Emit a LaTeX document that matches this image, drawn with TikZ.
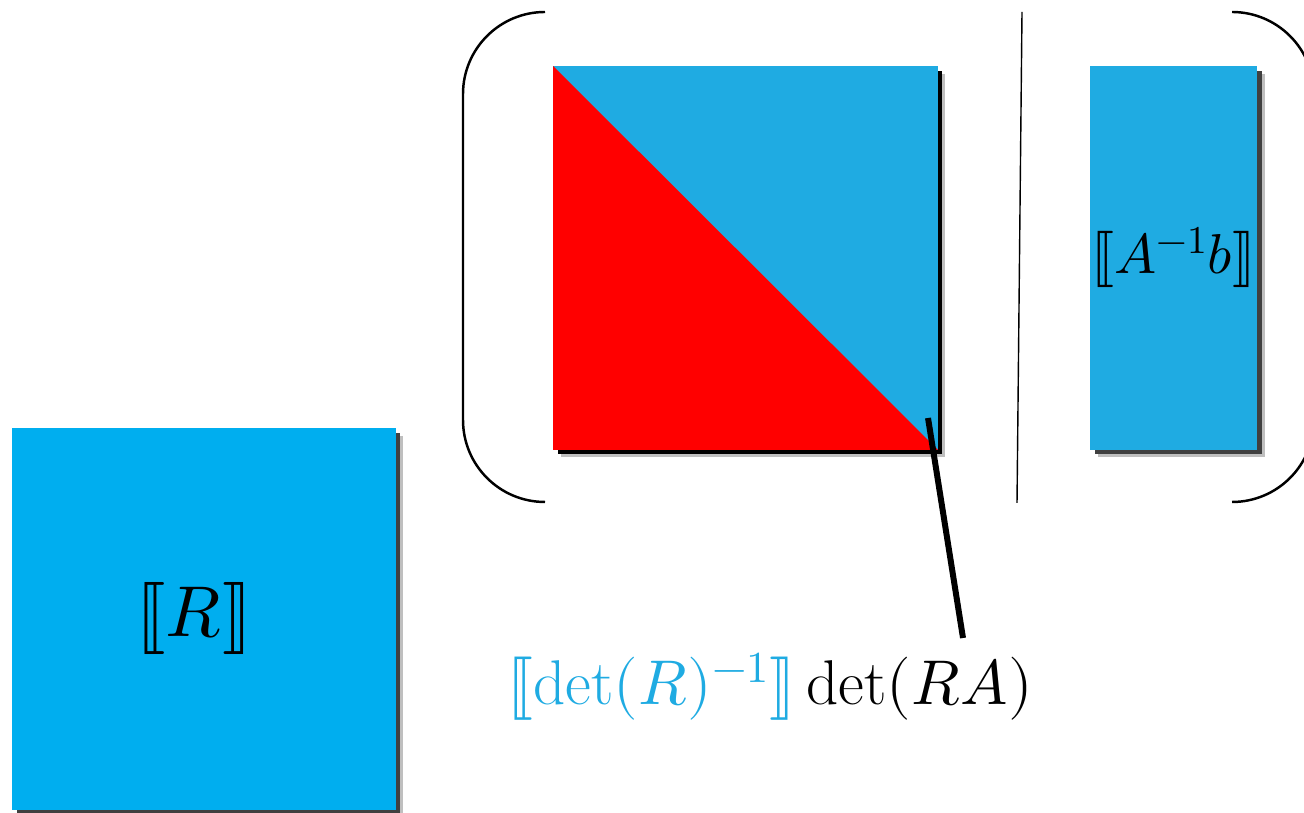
\documentclass[tikz,border=0pt]{standalone}
\usepackage{unicode-math}
\setmathfont{Latin Modern Math}
\usetikzlibrary{shadows}
\definecolor{cyanbox}{RGB}{0,174,239}
\definecolor{skyblue}{RGB}{31,171,226}
\definecolor{redpart}{RGB}{255,0,0}
\tikzset{
  tile/.style={fill=#1,inner sep=0pt,outer sep=0pt,
    drop shadow={shadow xshift=0.15cm,shadow yshift=-0.15cm,fill=black!25,opacity=1},
    drop shadow={shadow xshift=0.09cm,shadow yshift=-0.09cm,fill=black!75,opacity=1}},
  tile/.default=skyblue,
  brace/.style={line width=1.4pt},
  pointer/.style={line width=3.4pt},
}
\begin{document}
\begin{tikzpicture}[x=0.02cm,y=0.02cm]
  \useasboundingbox (0,0) rectangle (1304,813);
  % left block
  \node[tile=cyanbox,minimum width=7.68cm,minimum height=7.64cm,
    font=\fontsize{41}{44}\selectfont] (rbox) at (204,194) {\hspace*{-0.4cm}$\lBrack R\rBrack$};
  % big square, lower triangle in red
  \node[tile=skyblue,minimum width=7.7cm,minimum height=7.68cm,
    drop shadow={shadow xshift=0.09cm,shadow yshift=-0.09cm,fill=black,opacity=1},
    path picture={\fill[redpart] (path picture bounding box.north west)
      -- (path picture bounding box.south west)
      -- (path picture bounding box.south east) -- cycle;}] (ra) at (745.5,555) {};
  % right column
  \node[tile=skyblue,minimum width=3.34cm,minimum height=7.68cm,
    font=\fontsize{32}{35}\selectfont] (ab) at (1173.5,555) {\raisebox{0.3cm}{$\lBrack A^{-1}b\rBrack$}};
  % brackets and divider
  \draw[brace] (545,801) arc (90:180:82) -- (463,393) arc (180:270:82);
  \draw[brace] (1232,801) arc (90:0:82) -- (1314,393) arc (0:-90:82);
  \draw[line width=0.8pt] (1022,801) -- (1017,310);
  % label
  \node[anchor=base,font=\fontsize{36}{39}\selectfont] (lbl) at (770,108)
    {$\color{skyblue}\lBrack\det(R)^{-1}\rBrack$\,$\det(RA)$};
  \coordinate (tip) at (928,395);
  \coordinate (tail) at (963,175);
  \draw[pointer] (tip) -- (tail);
\end{tikzpicture}
\end{document}
